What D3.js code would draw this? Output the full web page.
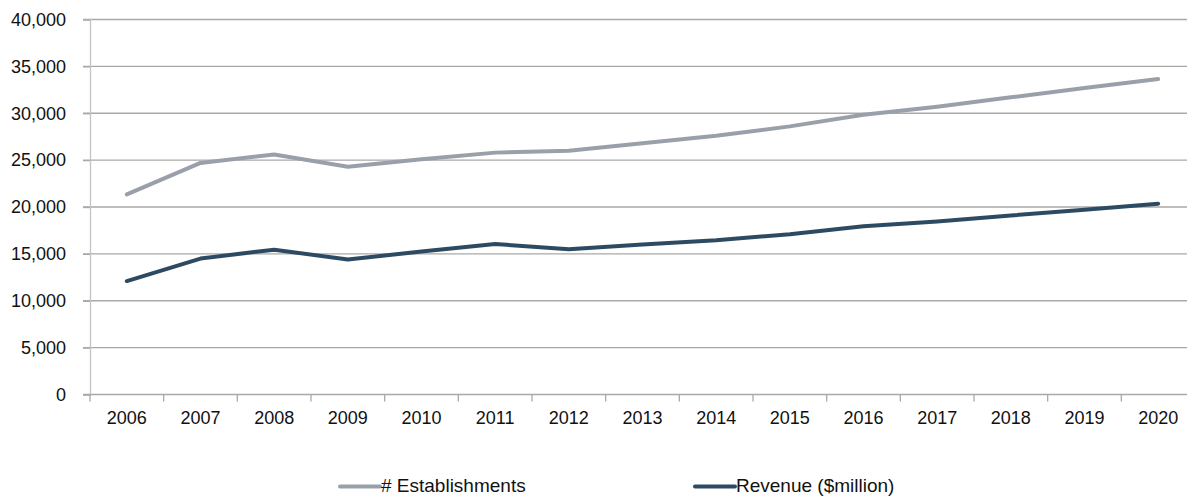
<!DOCTYPE html>
<html>
<head>
<meta charset="utf-8">
<script src="https://cdn.jsdelivr.net/npm/d3@7"></script>
<style>
  html, body { margin: 0; padding: 0; background: #fff; overflow: hidden; }
  svg { display: block; font-family: "Liberation Sans", Arial, sans-serif; }
</style>
</head>
<body>
<svg id="chart" width="1187" height="497"></svg>
<script>
// Years on the category axis
const years = ["2006","2007","2008","2009","2010","2011","2012","2013","2014","2015","2016","2017","2018","2019","2020"];

// Number of establishments per year
const establishments = [21350, 24700, 25600, 24300, 25100, 25800, 26000, 26800, 27600, 28600, 29850, 30700, 31700, 32700, 33650];

// Revenue per year, $ million
const revenue = [12100, 14500, 15450, 14400, 15250, 16050, 15500, 16000, 16450, 17100, 17950, 18450, 19100, 19700, 20350];

// Value-axis ticks
const yTicks = [0, 5000, 10000, 15000, 20000, 25000, 30000, 35000, 40000];

const seriesNames = ["# Establishments", "Revenue ($million)"];
const seriesColors = ["#9aa0aa", "#2d4a63"];

const svg = d3.select("#chart");
const plotLeft = 90, plotRight = 1195, plotTop = 19.5, plotBottom = 394.5;

const x = d3.scaleBand().domain(years).range([plotLeft, plotRight]).paddingInner(0).paddingOuter(0);
const y = d3.scaleLinear().domain([0, 40000]).range([plotBottom, plotTop]);

// Horizontal gridlines
svg.append("g")
  .selectAll("line")
  .data(yTicks.filter(d => d > 0))
  .join("line")
  .attr("x1", plotLeft - 7).attr("x2", 1187)
  .attr("y1", d => y(d)).attr("y2", d => y(d))
  .attr("stroke", "#a9a9a9").attr("stroke-width", 1.3);

// Value axis
const yAxis = svg.append("g")
  .attr("transform", `translate(${plotLeft},0)`)
  .call(d3.axisLeft(y).tickValues(yTicks).tickSize(7).tickPadding(17).tickFormat(d3.format(",")));
yAxis.select(".domain").attr("stroke", "#c4c4c4").attr("stroke-width", 1.3);
yAxis.selectAll(".tick line").attr("stroke", "#a9a9a9").attr("stroke-width", 1.3);
yAxis.selectAll("text").attr("font-size", 18).attr("fill", "#111")
  .attr("font-family", "Liberation Sans, Arial, sans-serif");

// Category axis: ticks on band boundaries, labels centred in bands
const xAxisG = svg.append("g").attr("transform", `translate(0,${plotBottom})`);
xAxisG.append("line")
  .attr("x1", plotLeft - 7).attr("x2", 1187)
  .attr("stroke", "#a9a9a9").attr("stroke-width", 1.3);
xAxisG.selectAll("line.tk")
  .data(years)
  .join("line")
  .attr("class", "tk")
  .attr("x1", d => x(d)).attr("x2", d => x(d))
  .attr("y1", 0).attr("y2", 7)
  .attr("stroke", "#a9a9a9").attr("stroke-width", 1.3);
xAxisG.selectAll("text")
  .data(years)
  .join("text")
  .attr("x", d => x(d) + x.bandwidth() / 2)
  .attr("y", 29)
  .attr("text-anchor", "middle")
  .attr("font-size", 18)
  .attr("fill", "#111")
  .text(d => d);

// Series lines
const line = d3.line()
  .x((d, i) => x(years[i]) + x.bandwidth() / 2)
  .y(d => y(d));

[establishments, revenue].forEach((vals, k) => {
  svg.append("path")
    .datum(vals)
    .attr("d", line)
    .attr("fill", "none")
    .attr("stroke", seriesColors[k])
    .attr("stroke-width", 4)
    .attr("stroke-linejoin", "round")
    .attr("stroke-linecap", "round");
});

// Legend
const legendX = [340, 695];
const legend = svg.append("g");
seriesNames.forEach((name, k) => {
  legend.append("line")
    .attr("x1", legendX[k]).attr("x2", legendX[k] + 40)
    .attr("y1", 486.5).attr("y2", 486.5)
    .attr("stroke", seriesColors[k]).attr("stroke-width", 4)
    .attr("stroke-linecap", "round");
  legend.append("text")
    .attr("x", legendX[k] + 41)
    .attr("y", 492)
    .attr("font-size", 19)
    .attr("fill", "#111")
    .text(name);
});
</script>
</body>
</html>
